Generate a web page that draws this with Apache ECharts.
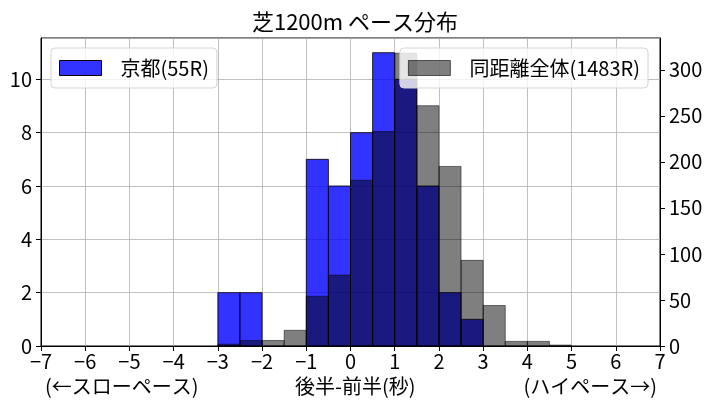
<!DOCTYPE html>
<html>
<head>
<meta charset="utf-8">
<script src="https://cdn.jsdelivr.net/npm/echarts@6/dist/echarts.min.js"></script>
<style>
	html, body { margin: 0; padding: 0; background: #fff; }
	#chart { width: 711px; height: 411px; }
</style>
</head>
<body>
<div id="chart"></div>
<script>
/* ビンの左端（幅0.5秒） */
const binLeft = [-3, -2.5, -2, -1.5, -1, -0.5, 0, 0.5, 1, 1.5, 2, 2.5, 3, 3.5, 4, 4.5];
const binWidth = 0.5;
/* 京都(55R) の件数 */
const kyotoCounts = [2, 2, 0, 0, 7, 6, 8, 11, 10, 6, 2, 1, 0, 0, 0, 0];
/* 同距離全体(1483R) の件数 */
const allCounts = [2, 6, 6, 17, 54, 77, 180, 233, 318, 261, 195, 93, 44, 5, 5, 1];
/* 目盛り */
const xTicks = [-7, 7, 1];
const leftTicks = [0, 11.55, 2];
const rightTicks = [0, 334.5, 50];

const FONT = "'Noto Sans CJK JP', sans-serif";
const minus = (v) => String(v).replace("-", "\u2212");

/* ヒストグラムの棒 */
const histItem = (fill, stroke) => (params, api) => {
	const x0 = api.value(0);
	const count = api.value(1);
	if (!count) return null;
	const p0 = api.coord([x0, count]);
	const p1 = api.coord([x0 + binWidth, 0]);
	return {
		type: "rect",
		shape: { x: p0[0], y: p0[1], width: p1[0] - p0[0], height: p1[1] - p0[1] },
		style: { fill: fill, stroke: stroke, lineWidth: 1 },
	};
};

const legendBase = {
	top: 48,
	orient: "horizontal",
	icon: "rect",
	itemWidth: 42,
	itemHeight: 15,
	backgroundColor: "rgba(255,255,255,0.8)",
	borderColor: "#d4d4d4",
	borderWidth: 1,
	borderRadius: 4,
	padding: [10, 8, 10, 8],
	textStyle: { fontFamily: FONT, fontSize: 20, color: "#000", padding: [0, 0, 0, 14] },
};

const yAxisBase = {
	type: "value",
	axisLine: { show: true, onZero: false, lineStyle: { color: "#000" } },
	axisTick: { show: true, length: 5, lineStyle: { color: "#000" } },
	axisLabel: { color: "#000", fontSize: 20, margin: 9, showMaxLabel: false, fontFamily: FONT },
};

const chart = echarts.init(document.getElementById("chart"));
chart.setOption({
	animation: false,
	textStyle: { fontFamily: FONT },
	title: {
		text: "芝1200m ペース分布",
		left: 350,
		textAlign: "center",
		top: 6,
		textStyle: { fontFamily: FONT, fontSize: 22, fontWeight: "normal", color: "#000" },
	},
	grid: {
		left: 41,
		right: 51,
		top: 38,
		bottom: 65,
		show: true,
		borderColor: "#000",
		borderWidth: 1,
		backgroundColor: "transparent",
	},
	legend: [
		Object.assign({}, legendBase, {
			left: 51,
			data: [{ name: "京都(55R)", itemStyle: { color: "rgba(0,0,255,0.8)", borderColor: "#000", borderWidth: 1 } }],
		}),
		Object.assign({}, legendBase, {
			right: 63,
			data: [{ name: "同距離全体(1483R)", itemStyle: { color: "rgba(0,0,0,0.5)", borderColor: "rgba(0,0,0,0.6)", borderWidth: 1 } }],
		}),
	],
	xAxis: {
		type: "value",
		min: xTicks[0],
		max: xTicks[1],
		interval: xTicks[2],
		axisLine: { show: true, onZero: false, lineStyle: { color: "#000" } },
		axisTick: { show: true, length: 5, lineStyle: { color: "#000" } },
		axisLabel: { color: "#000", fontSize: 20, margin: 5, formatter: minus, fontFamily: FONT },
		splitLine: { show: true, lineStyle: { color: "#b0b0b0", width: 0.8 } },
	},
	yAxis: [
		Object.assign({}, yAxisBase, {
			min: leftTicks[0],
			max: leftTicks[1],
			interval: leftTicks[2],
			splitLine: { show: true, lineStyle: { color: "#b0b0b0", width: 0.8 } },
		}),
		Object.assign({}, yAxisBase, {
			position: "right",
			min: rightTicks[0],
			max: rightTicks[1],
			interval: rightTicks[2],
			splitLine: { show: false },
		}),
	],
	series: [
		{
			name: "京都(55R)",
			type: "custom",
			yAxisIndex: 0,
			z: 2,
			itemStyle: { color: "rgba(0,0,255,0.8)" },
			renderItem: histItem("rgba(0,0,255,0.8)", "rgba(0,0,0,0.8)"),
			encode: { x: 0, y: 1 },
			data: binLeft.map((x, i) => [x, kyotoCounts[i]]),
		},
		{
			name: "同距離全体(1483R)",
			type: "custom",
			yAxisIndex: 1,
			z: 3,
			itemStyle: { color: "rgba(0,0,0,0.5)" },
			renderItem: histItem("rgba(0,0,0,0.5)", "rgba(0,0,0,0.5)"),
			encode: { x: 0, y: 1 },
			data: binLeft.map((x, i) => [x, allCounts[i]]),
		},
	],
	graphic: [
		{ type: "text", left: 45, top: 376, style: { text: "(←スローペース)", font: "20px " + FONT, fill: "#000" } },
		{ type: "text", left: 295, top: 376, style: { text: "後半-前半(秒)", font: "20px " + FONT, fill: "#000" } },
		{ type: "text", right: 54, top: 376, style: { text: "(ハイペース→)", font: "20px " + FONT, fill: "#000" } },
	],
});
</script>
</body>
</html>
